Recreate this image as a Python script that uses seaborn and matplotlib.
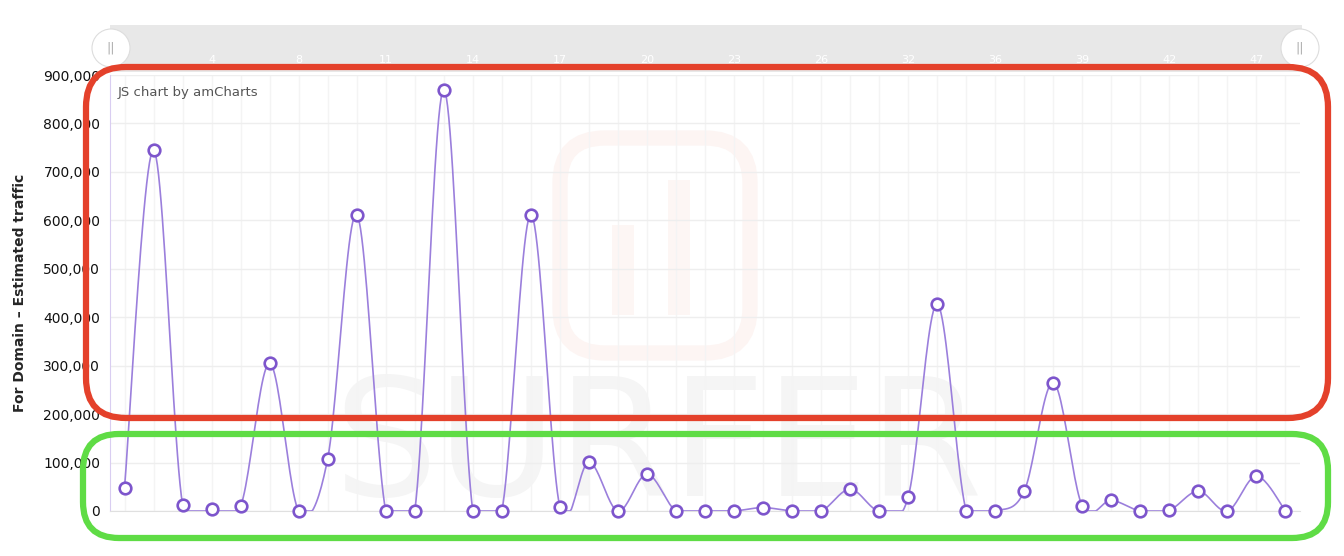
import numpy as np
import pandas as pd
import seaborn as sns
import matplotlib.pyplot as plt
import matplotlib.ticker as mtick
import matplotlib.transforms as mtrans
from matplotlib.patches import FancyBboxPatch, Circle

# Data
positions = list(range(41))
traffic = [48000, 745000, 13000, 5000, 10000, 305000, 0, 108000, 612000, 0,
           0, 870000, 0, 0, 612000, 8000, 101000, 0, 76000, 0,
           0, 0, 7000, 0, 0, 45000, 0, 29000, 427000, 0,
           0, 41000, 265000, 10000, 22000, 0, 2000, 41000, 0, 72000, 0]
scroll_idx = [3, 6, 9, 12, 15, 18, 21, 24, 27, 30, 33, 36, 39]
scroll_labels = ["4", "8", "11", "14", "17", "20", "23", "26", "32", "36", "39", "42", "47"]
y_ticks = [0, 100000, 200000, 300000, 400000, 500000, 600000, 700000, 800000, 900000]

df = pd.DataFrame({"pos": positions, "traffic": traffic})


# smoothed path through the points (drawing only, like amCharts "smoothedLine")
def smooth_path(x, y, steps=24):
    x = np.asarray(x, float)
    y = np.asarray(y, float)
    n = len(x)
    xs, ys = [], []
    t = np.linspace(0, 1, steps)
    for i in range(n - 1):
        p0 = max(i - 1, 0)
        p3 = min(i + 2, n - 1)
        c1x = x[i] + (x[i + 1] - x[p0]) / 6
        c1y = y[i] + (y[i + 1] - y[p0]) / 6
        c2x = x[i + 1] - (x[p3] - x[i]) / 6
        c2y = y[i + 1] - (y[p3] - y[i]) / 6
        b = [(1 - t) ** 3, 3 * (1 - t) ** 2 * t, 3 * (1 - t) * t ** 2, t ** 3]
        xs.append(b[0] * x[i] + b[1] * c1x + b[2] * c2x + b[3] * x[i + 1])
        ys.append(b[0] * y[i] + b[1] * c1y + b[2] * c2y + b[3] * y[i + 1])
    # the chart never draws the curve under the baseline
    return np.concatenate(xs), np.maximum(np.concatenate(ys), 0)


sns.set_style("white")
plt.rcParams['font.family'] = ['DejaVu Sans']

W, H = 1344, 556
fig = plt.figure(figsize=(W / 100, H / 100), dpi=100)

# background layer: scrollbar + faint watermark
bg = fig.add_axes([0, 0, 1, 1], zorder=0)
bg.set_xlim(0, W)
bg.set_ylim(H, 0)
bg.axis("off")
bg.add_patch(FancyBboxPatch((110, 25), 1192, 47, boxstyle="square,pad=0",
                            facecolor="#e8e8e8", edgecolor="none"))
bg.add_patch(FancyBboxPatch((560, 138), 190, 215, boxstyle="round,pad=0,rounding_size=45",
                            facecolor="none", edgecolor="#fdf5f3", lw=11))
bg.add_patch(FancyBboxPatch((612, 225), 22, 90, boxstyle="square,pad=0",
                            facecolor="#fdf6f4", edgecolor="none"))
bg.add_patch(FancyBboxPatch((668, 180), 22, 135, boxstyle="square,pad=0",
                            facecolor="#fdf6f4", edgecolor="none"))
bg.text(658, 450, "SURFER", ha="center", va="center", fontsize=118,
        color="#f5f5f5")

# main chart
ax = fig.add_axes([110 / W, (H - 511) / H, 1190 / W, 436 / H], zorder=1)
ax.set_facecolor("none")

sx, sy = smooth_path(df["pos"], df["traffic"])
sns.lineplot(x=sx, y=sy, ax=ax, color="#9b7fdc", lw=1.2, sort=False,
             estimator=None, zorder=2)
sns.scatterplot(data=df, x="pos", y="traffic", ax=ax, s=70, color="white",
                edgecolor="#7d55cc", linewidth=1.9, zorder=3, clip_on=False)

ax.set_xlim(-0.5, 40.5)
ax.set_ylim(0, 900000)
ax.set_yticks(y_ticks)
ax.yaxis.set_major_formatter(mtick.StrMethodFormatter("{x:,.0f}"))
ax.set_xticks(positions)
ax.tick_params(axis="x", length=0, labelbottom=False)
ax.tick_params(axis="y", length=6, width=1, color="#e2e2e2", labelsize=10,
               labelcolor="#111111", pad=1)
ax.grid(axis="y", color="#eeeeee", lw=1)
ax.grid(axis="x", color="#f4f4f4", lw=1)
for side in ["top", "right"]:
    ax.spines[side].set_visible(False)
ax.spines["left"].set_color("#d9cdf1")
ax.spines["bottom"].set_color("#e0e0e0")
ax.set_xlabel("")
ax.set_ylabel("For Domain – Estimated traffic", fontsize=10, fontweight="bold",
              labelpad=12)
ax.text(0.006, 0.96, "JS chart by amCharts", transform=ax.transAxes,
        fontsize=9.5, color="#555555", va="center")

# scrollbar category labels
blend = mtrans.blended_transform_factory(ax.transData, bg.transData)
for i, lab in zip(scroll_idx, scroll_labels):
    bg.text(i, 60, lab, transform=blend, ha="center", va="center",
            fontsize=8, color="white")

# foreground: scrollbar grips and annotation boxes
fg = fig.add_axes([0, 0, 1, 1], zorder=2)
fg.set_xlim(0, W)
fg.set_ylim(H, 0)
fg.axis("off")
fg.set_facecolor("none")
for cx in [111, 1300]:
    fg.add_patch(Circle((cx, 48), 19, facecolor="white", edgecolor="#dddddd", lw=0.8))
    fg.text(cx, 48, "||", ha="center", va="center", fontsize=9, color="#aaaaaa")
fg.add_patch(FancyBboxPatch((86, 67), 1242, 351, boxstyle="round,pad=0,rounding_size=40",
                            facecolor="none", edgecolor="#e4412b", lw=4.5))
fg.add_patch(FancyBboxPatch((83, 434), 1245, 104, boxstyle="round,pad=0,rounding_size=36",
                            facecolor="none", edgecolor="#5fdc45", lw=4.5))

fig.savefig("out.png", dpi=100, facecolor="white")
